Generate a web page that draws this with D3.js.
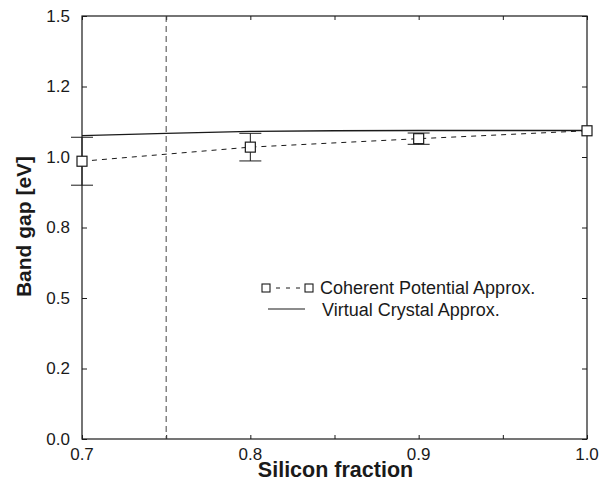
<!DOCTYPE html>
<html>
<head>
<meta charset="utf-8">
<script src="https://cdn.jsdelivr.net/npm/d3@7"></script>
<style>
  html, body { margin: 0; padding: 0; background: #fff; }
  svg { display: block; font-family: "Liberation Sans", Arial, Helvetica, sans-serif; }
</style>
</head>
<body>
<svg id="chart" width="609" height="489"></svg>
<script>
// Silicon fraction sample points
const fractions = [0.7, 0.8, 0.9, 1.0];
// Coherent potential approximation: band gap and error half-widths (eV)
const cpaGap = [0.985, 1.035, 1.065, 1.093];
const cpaErr = [0.085, 0.049, 0.02, 0.0];
// Virtual crystal approximation curve
const vcaFraction = [0.7, 0.75, 0.8, 0.85, 0.9, 1.0];
const vcaGap = [1.076, 1.084, 1.091, 1.093, 1.094, 1.094];
// Marked composition
const markFraction = 0.75;
// Axis ticks
const xTickValues = [0.7, 0.8, 0.9, 1.0];
const xTickLabels = ["0.7", "0.8", "0.9", "1.0"];
const xMinorTicks = [0.7, 0.75, 0.8, 0.85, 0.9, 0.95, 1.0];
const yTickValues = [0, 0.25, 0.5, 0.75, 1.0, 1.25, 1.5];
const yTickLabels = ["0.0", "0.2", "0.5", "0.8", "1.0", "1.2", "1.5"];
const legendLabels = ["Coherent Potential Approx.", "Virtual Crystal Approx."];

const svg = d3.select("#chart");
const plotL = 82, plotR = 587, plotT = 16, plotB = 439;

const x = d3.scaleLinear().domain([0.7, 1.0]).range([plotL, plotR]);
const y = d3.scaleLinear().domain([0, 1.5]).range([plotB, plotT]);

const ink = "#1a1a1a";

// Frame
svg.append("rect")
  .attr("x", plotL).attr("y", plotT)
  .attr("width", plotR - plotL).attr("height", plotB - plotT)
  .attr("fill", "none").attr("stroke", ink).attr("stroke-width", 1.2);

// Axes: ticks pointing inward, labels from arrays
const xAxisBottom = d3.axisBottom(x).tickValues(xMinorTicks).tickSize(-4).tickFormat("");
svg.append("g").attr("transform", `translate(0,${plotB})`).call(xAxisBottom);
const xAxisTop = d3.axisTop(x).tickValues(xMinorTicks).tickSize(-4).tickFormat("");
svg.append("g").attr("transform", `translate(0,${plotT})`).call(xAxisTop);
const yAxisLeft = d3.axisLeft(y).tickValues(yTickValues).tickSize(-5).tickFormat("");
svg.append("g").attr("transform", `translate(${plotL},0)`).call(yAxisLeft);
const yAxisRight = d3.axisRight(y).tickValues(yTickValues).tickSize(-5).tickFormat("");
svg.append("g").attr("transform", `translate(${plotR},0)`).call(yAxisRight);
svg.selectAll(".domain").remove();
svg.selectAll(".tick line").attr("stroke", ink).attr("stroke-width", 1);

// Tick labels
svg.append("g").selectAll("text").data(xTickValues).join("text")
  .attr("x", d => x(d)).attr("y", plotB + 21)
  .attr("text-anchor", "middle")
  .attr("font-size", 17).attr("fill", ink)
  .text((d, i) => xTickLabels[i]);
svg.append("g").selectAll("text").data(yTickValues).join("text")
  .attr("x", plotL - 12).attr("y", d => y(d))
  .attr("dy", "0.35em")
  .attr("text-anchor", "end")
  .attr("font-size", 17).attr("fill", ink)
  .text((d, i) => yTickLabels[i]);

// Axis titles
svg.append("text")
  .attr("x", (plotL + plotR) / 2 + 1).attr("y", 477)
  .attr("text-anchor", "middle")
  .attr("font-size", 21.5).attr("font-weight", "bold").attr("fill", ink)
  .text("Silicon fraction");
svg.append("text")
  .attr("transform", `translate(31,${(155 + 298) / 2}) rotate(-90)`)
  .attr("text-anchor", "middle")
  .attr("font-size", 21).attr("font-weight", "bold").attr("fill", ink)
  .text("Band gap [eV]");

// Vertical dashed marker
svg.append("line")
  .attr("x1", x(markFraction)).attr("x2", x(markFraction))
  .attr("y1", y(1.5)).attr("y2", y(0))
  .attr("stroke", "#444").attr("stroke-width", 1)
  .attr("stroke-dasharray", "6,4");

// Virtual crystal approximation (solid)
const curve = d3.line().x(d => x(d[0])).y(d => y(d[1]));
svg.append("path")
  .datum(vcaFraction.map((f, i) => [f, vcaGap[i]]))
  .attr("d", curve)
  .attr("fill", "none").attr("stroke", ink).attr("stroke-width", 1.3);

// Coherent potential approximation (dashed)
svg.append("path")
  .datum(fractions.map((f, i) => [f, cpaGap[i]]))
  .attr("d", curve)
  .attr("fill", "none").attr("stroke", ink).attr("stroke-width", 1)
  .attr("stroke-dasharray", "5,5");

// Error bars
const capHalf = 11;
const eb = svg.append("g").attr("stroke", ink).attr("stroke-width", 1);
fractions.forEach((f, i) => {
  if (cpaErr[i] <= 0) return;
  const cx = x(f), yt = y(cpaGap[i] + cpaErr[i]), yb = y(cpaGap[i] - cpaErr[i]);
  eb.append("line").attr("x1", cx).attr("x2", cx).attr("y1", yt).attr("y2", yb);
  eb.append("line").attr("x1", cx - capHalf).attr("x2", cx + capHalf).attr("y1", yt).attr("y2", yt);
  eb.append("line").attr("x1", cx - capHalf).attr("x2", cx + capHalf).attr("y1", yb).attr("y2", yb);
});

// Square markers
const sq = 10;
svg.append("g").selectAll("rect").data(fractions).join("rect")
  .attr("x", d => x(d) - sq / 2)
  .attr("y", (d, i) => y(cpaGap[i]) - sq / 2)
  .attr("width", sq).attr("height", sq)
  .attr("fill", "#fff").attr("stroke", ink).attr("stroke-width", 1.2);

// Legend
const lg = svg.append("g");
const ly1 = 288, ly2 = 309;
const ls = 8;
lg.append("line").attr("x1", 276).attr("x2", 300).attr("y1", ly1).attr("y2", ly1)
  .attr("stroke", ink).attr("stroke-width", 1).attr("stroke-dasharray", "4,6");
[266, 309].forEach(cx => {
  lg.append("rect").attr("x", cx - ls / 2).attr("y", ly1 - ls / 2)
    .attr("width", ls).attr("height", ls)
    .attr("fill", "#fff").attr("stroke", ink).attr("stroke-width", 1.1);
});
lg.append("text").attr("x", 320).attr("y", ly1).attr("dy", "0.35em")
  .attr("font-size", 18).attr("fill", ink).text(legendLabels[0]);
lg.append("line").attr("x1", 268).attr("x2", 305).attr("y1", ly2).attr("y2", ly2)
  .attr("stroke", ink).attr("stroke-width", 1.2);
lg.append("text").attr("x", 322).attr("y", ly2 + 1).attr("dy", "0.35em")
  .attr("font-size", 18).attr("fill", ink).text(legendLabels[1]);
</script>
</body>
</html>
